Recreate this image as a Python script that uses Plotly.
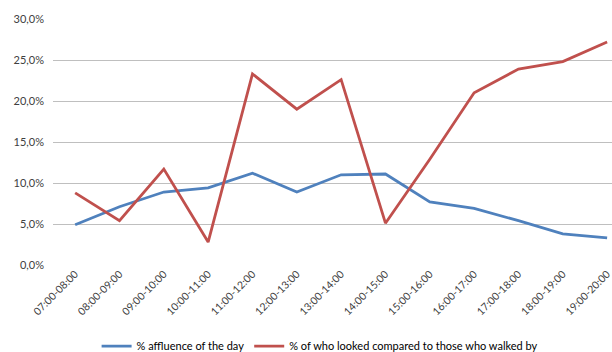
import plotly.graph_objects as go

categories = ["07:00-08:00", "08:00-09:00", "09:00-10:00", "10:00-11:00", "11:00-12:00",
              "12:00-13:00", "13:00-14:00", "14:00-15:00", "15:00-16:00", "16:00-17:00",
              "17:00-18:00", "18:00-19:00", "19:00-20:00"]
affluence = [4.9, 7.1, 8.9, 9.4, 11.2, 8.9, 11.0, 11.1, 7.7, 6.9, 5.4, 3.8, 3.3]
looked = [8.8, 5.4, 11.7, 2.8, 23.3, 19.0, 22.6, 5.1, 12.9, 21.0, 23.9, 24.8, 27.2]
y_ticks = [0, 5, 10, 15, 20, 25, 30]
y_tick_labels = ["0,0%", "5,0%", "10,0%", "15,0%", "20,0%", "25,0%", "30,0%"]

font = "Lato, 'Open Sans', sans-serif"
fig = go.Figure()
fig.add_trace(go.Scatter(x=list(range(len(categories))), y=affluence, mode="lines",
                         name="% affluence of the day",
                         line=dict(color="#4F81BD", width=2.8)))
fig.add_trace(go.Scatter(x=list(range(len(categories))), y=looked, mode="lines",
                         name="% of who looked compared to those who walked by",
                         line=dict(color="#C0504D", width=2.8)))

fig.update_layout(
    width=612, height=352,
    margin=dict(l=53, r=0, t=19, b=87, autoexpand=False),
    paper_bgcolor="white", plot_bgcolor="white",
    font=dict(family=font, size=11, color="#404040"),
    showlegend=True,
    legend=dict(orientation="h", x=0.078, y=-0.33, xanchor="left", yanchor="middle",
                font=dict(size=11, color="#000000"), itemwidth=30,
                tracegroupgap=0, bgcolor="rgba(0,0,0,0)"),
)
fig.update_xaxes(tickmode="array", tickvals=list(range(len(categories))), ticktext=categories,
                 range=[-0.5, 12.11], tickangle=-45, showgrid=False, zeroline=False,
                 showline=False, ticks="", automargin=False, ticklabeloverflow="allow",
                 tickfont=dict(size=10.5, color="#404040"))
fig.update_yaxes(tickmode="array", tickvals=y_ticks, ticktext=y_tick_labels,
                 range=[0, 30], showgrid=True, gridcolor="#BFBFBF", gridwidth=1,
                 zeroline=False, showline=False, ticks="", ticklabelstandoff=8,
                 automargin=False, tickfont=dict(size=11, color="#404040"))
fig.write_html("out.html", config={"displayModeBar": False},
               post_script="document.body.style.margin='0';document.body.style.overflow='hidden';")
